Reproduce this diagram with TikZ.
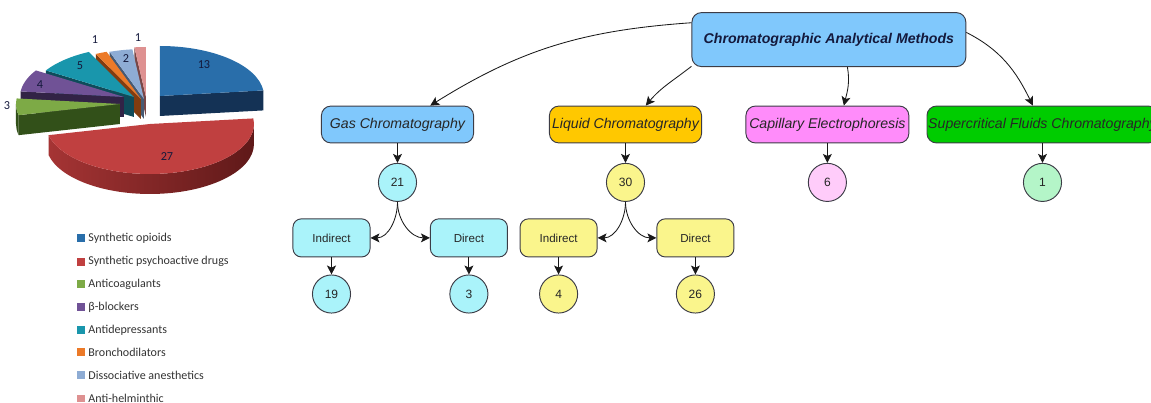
\documentclass[tikz,border=0pt]{standalone}
\usepackage{fontspec}
\setmainfont{Liberation Sans}
\newfontfamily\calibrifont{Carlito}
\usetikzlibrary{arrows.meta,positioning}

% flow chart colours
\definecolor{frame}{RGB}{60,60,70}
\definecolor{inkblue}{RGB}{20,25,60}
\definecolor{methodblue}{RGB}{128,200,252}
\definecolor{lcgold}{RGB}{255,200,0}
\definecolor{cepink}{RGB}{255,140,250}
\definecolor{sfcgreen}{RGB}{0,204,0}
\definecolor{gclight}{RGB}{170,243,250}
\definecolor{lclight}{RGB}{250,245,140}
\definecolor{celight}{RGB}{255,204,250}
\definecolor{sfclight}{RGB}{180,245,200}

% pie colours (top / wall)
\definecolor{pblue}{RGB}{41,110,170}   \definecolor{pbluew}{RGB}{20,50,85}
\definecolor{pred}{RGB}{192,64,64}     \definecolor{predwl}{RGB}{165,52,52}
\definecolor{predwr}{RGB}{95,25,25}
\definecolor{pgreen}{RGB}{125,170,70}  \definecolor{pgreenw}{RGB}{50,80,25}
\definecolor{ppurple}{RGB}{112,82,150} \definecolor{ppurplew}{RGB}{50,35,70}
\definecolor{pteal}{RGB}{25,150,172}   \definecolor{ptealw}{RGB}{15,75,90}
\definecolor{porange}{RGB}{236,122,40} \definecolor{porangew}{RGB}{130,60,15}
\definecolor{plblue}{RGB}{142,172,212} \definecolor{plbluew}{RGB}{70,90,115}
\definecolor{ppink}{RGB}{222,145,145}  \definecolor{ppinkw}{RGB}{120,70,70}

% 3d pie pieces: apex x, apex y, angles, style
\newcommand{\pietop}[5]{%
  \path[#5] (#1,#2) -- ++(#3:104 and 50)
    arc[start angle=#3, end angle=#4, x radius=104, y radius=50] -- cycle;}
\newcommand{\pieface}[4]{%
  \path[#4] (#1,#2) -- ++(#3:104 and 50) -- ++(0,-20)
    -- ++(#3+180:104 and 50) -- cycle;}
\newcommand{\pierim}[5]{%
  \path[#5] (#1,#2) ++(#3:104 and 50)
    arc[start angle=#3, end angle=#4, x radius=104, y radius=50] -- ++(0,-20)
    arc[start angle=#4, end angle=#3, x radius=104, y radius=50] -- cycle;}

\begin{document}
\begin{tikzpicture}[
  x=1cm, y=1cm,
  rootbox/.style={draw=frame, fill=methodblue, rounded corners=9pt, line width=0.9pt,
    minimum width=9.13cm, minimum height=1.8cm, align=center, text=inkblue,
    font=\fontsize{13.4}{15}\selectfont\bfseries\itshape},
  method/.style={draw=frame, rounded corners=9pt, line width=0.9pt, inner xsep=0pt,
    minimum width=5.07cm, minimum height=1.23cm, align=center, text=black!85,
    font=\fontsize{13.4}{15}\selectfont\itshape},
  route/.style={draw=frame, rounded corners=8pt, line width=0.9pt,
    minimum width=2.57cm, minimum height=1.27cm, text=black!85,
    font=\fontsize{11}{13}\selectfont},
  tally/.style={draw=frame, circle, line width=0.9pt, minimum size=1.27cm,
    inner sep=0pt, text=black!85, font=\fontsize{11.4}{13}\selectfont},
  arr/.style={-{Stealth[length=8.5pt, width=8.5pt, inset=2pt]}, line width=0.8pt, draw=black!90},
  legendbox/.style={minimum size=0.26cm, inner sep=0pt},
  legendtext/.style={anchor=west, inner sep=0pt, text=black!80,
    font=\calibrifont\fontsize{11.4}{13}\selectfont},
  pielabel/.style={inner sep=0pt, text=inkblue,
    font=\calibrifont\fontsize{11.6}{13}\selectfont}
]
\useasboundingbox (0,0) rectangle (38.367,-13.433);
\clip (0,0) rectangle (38.367,-13.433);

% exploded 3d pie, in pixel-sized units
\begin{scope}[x=0.3333mm, y=0.3333mm]
\pieface{160}{-96}{6.4}{fill=pbluew}
\pietop{160}{-96}{6.4}{90}{fill=pblue}
\pieface{146}{-97}{96.4}{fill=ppinkw}
\pietop{146}{-97}{90}{96.4}{fill=ppink}
\pieface{144}{-99}{109.3}{fill=plbluew}
\pietop{144}{-99}{96.4}{109.3}{fill=plblue}
\pieface{141}{-99}{115.7}{fill=porangew}
\pietop{141}{-99}{109.3}{115.7}{fill=porange}
\pieface{134}{-97}{147.9}{fill=ptealw}
\pietop{134}{-97}{115.7}{147.9}{fill=pteal}
\pieface{124}{-97}{173.6}{fill=ppurplew}
\pietop{124}{-97}{147.9}{173.6}{fill=ppurple}
\pierim{120}{-104}{180}{192.9}{fill=pgreenw}
\pieface{120}{-104}{192.9}{fill=pgreenw}
\pietop{120}{-104}{173.6}{192.9}{fill=pgreen}
\pierim{150}{-124}{192.9}{360}{left color=predwl, right color=predwr}
\pietop{150}{-124}{192.9}{366.4}{fill=pred}

\node[pielabel] (v13) at (204,-65) {13};
\node[pielabel] (v27) at (167,-157) {27};
\node[pielabel] (v3)  at (7,-106) {3};
\node[pielabel] (v4)  at (40,-85) {4};
\node[pielabel] (v5)  at (80,-66) {5};
\node[pielabel] (v1a) at (95,-40) {1};
\node[pielabel] (v2)  at (126,-59) {2};
\node[pielabel] (v1b) at (138,-38) {1};
\end{scope}

% legend
\node[legendbox, fill=pblue]   (k1) at (2.7,-7.94)  {};
\node[legendbox, fill=pred]    (k2) at (2.7,-8.72)  {};
\node[legendbox, fill=pgreen]  (k3) at (2.7,-9.47)  {};
\node[legendbox, fill=ppurple] (k4) at (2.7,-10.24) {};
\node[legendbox, fill=pteal]   (k5) at (2.7,-11.0)  {};
\node[legendbox, fill=porange] (k6) at (2.7,-11.74) {};
\node[legendbox, fill=plblue]  (k7) at (2.7,-12.5)  {};
\node[legendbox, fill=ppink]   (k8) at (2.7,-13.28) {};
\node[legendtext] (t1) at (2.94,-7.94)  {Synthetic opioids};
\node[legendtext] (t2) at (2.94,-8.72)  {Synthetic psychoactive drugs};
\node[legendtext] (t3) at (2.94,-9.47)  {Anticoagulants};
\node[legendtext] (t4) at (2.94,-10.24) {β-blockers};
\node[legendtext] (t5) at (2.94,-11.0)  {Antidepressants};
\node[legendtext] (t6) at (2.94,-11.74) {Bronchodilators};
\node[legendtext] (t7) at (2.94,-12.5)  {Dissociative anesthetics};
\node[legendtext] (t8) at (2.94,-13.28) {Anti-helminthic};

% method tree
\node[rootbox] (cam) at (27.63,-1.32) {Chromatographic Analytical Methods};
\node[method, fill=methodblue] (gc) at (13.25,-4.15) {Gas Chromatography};
\node[method, fill=lcgold] (lc) at (20.85,-4.15) {Liquid Chromatography};
\node[method, fill=cepink, minimum width=5.43cm] (ce) at (27.58,-4.15) {Capillary Electrophoresis};
\node[method, fill=sfcgreen, minimum width=7.7cm] (sfc) at (34.75,-4.15) {Supercritical Fluids Chromatography};

\node[tally, fill=gclight]  (n21) at (13.25,-6.08) {21};
\node[tally, fill=lclight]  (n30) at (20.85,-6.08) {30};
\node[tally, fill=celight]  (n6)  at (27.58,-6.08) {6};
\node[tally, fill=sfclight] (n1)  at (34.75,-6.08) {1};

\node[route, fill=gclight] (gcind) at (11.05,-7.93) {Indirect};
\node[route, fill=gclight] (gcdir) at (15.63,-7.93) {Direct};
\node[route, fill=lclight] (lcind) at (18.62,-7.93) {Indirect};
\node[route, fill=lclight] (lcdir) at (23.18,-7.93) {Direct};

\node[tally, fill=gclight] (n19) at (11.05,-9.8) {19};
\node[tally, fill=gclight] (n3)  at (15.63,-9.8) {3};
\node[tally, fill=lclight] (n4)  at (18.62,-9.8) {4};
\node[tally, fill=lclight] (n26) at (23.18,-9.8) {26};

\draw[arr] (cam.173) to[out=184, in=32] (gc.30);
\draw[arr] (cam.191) to[out=218, in=50] (lc.43);
\draw[arr] (cam.-56) to[out=-80, in=76] (ce.49);
\draw[arr] (cam.3) to[out=-27, in=116] (sfc.117);

\draw[arr] (gc) -- (n21);
\draw[arr] (lc) -- (n30);
\draw[arr] (ce) -- (n6);
\draw[arr] (sfc) -- (n1);

\draw[arr] (n21.south) to[out=-90, in=0] (gcind.east);
\draw[arr] (n21.south) to[out=-90, in=180] (gcdir.west);
\draw[arr] (n30.south) to[out=-90, in=0] (lcind.east);
\draw[arr] (n30.south) to[out=-90, in=180] (lcdir.west);

\draw[arr] (gcind) -- (n19);
\draw[arr] (gcdir) -- (n3);
\draw[arr] (lcind) -- (n4);
\draw[arr] (lcdir) -- (n26);
\end{tikzpicture}
\end{document}
